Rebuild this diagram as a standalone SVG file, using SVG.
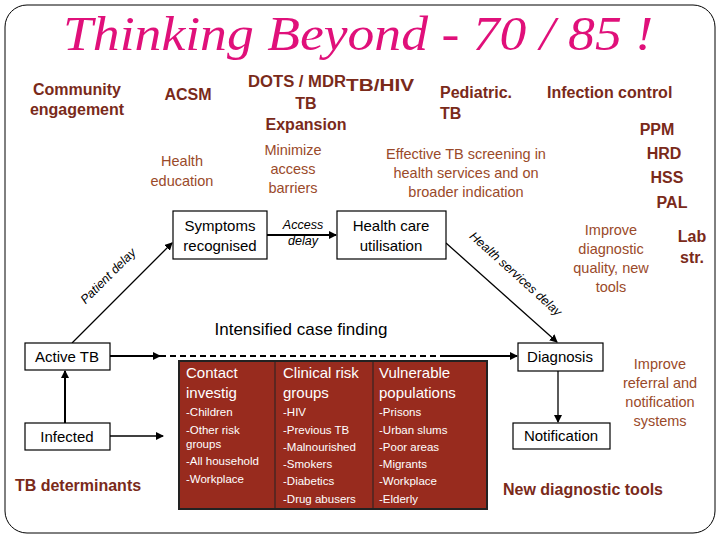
<svg xmlns="http://www.w3.org/2000/svg" width="720" height="540" viewBox="0 0 720 540">
<defs>
<marker id="ah" markerWidth="8" markerHeight="8" refX="7" refY="4" orient="auto" markerUnits="userSpaceOnUse"><path d="M0,0 L8,4 L0,8 z" fill="#000"/></marker>
<style>
text{font-family:"Liberation Sans",Arial,sans-serif}
.b{font-weight:bold;fill:#7a2a1a;font-size:16px}
.l{fill:#9a4a2a;font-size:14.5px}
.n{font-size:15px;fill:#000}
.box{fill:#fff;stroke:#000;stroke-width:1.2}
.w{fill:#fff;font-size:15px}
.ws{fill:#fff;font-size:11.5px}
.it{font-style:italic;font-size:12.5px}
</style>
</defs>
<rect x="5" y="5" width="710" height="528" rx="22" fill="#fff" stroke="#000" stroke-width="1"/>
<text x="358" y="50" text-anchor="middle" font-style="italic" font-size="48" fill="#e0107a" textLength="590" lengthAdjust="spacingAndGlyphs" style="font-family:'Liberation Serif',serif">Thinking Beyond - 70 / 85 !</text>
<g id="top-labels">
<text class="b" x="77" y="95" text-anchor="middle">Community</text>
<text class="b" x="77" y="115" text-anchor="middle">engagement</text>
<text class="b" x="188" y="100" text-anchor="middle">ACSM</text>
<text class="b" x="248" y="87" textLength="98" lengthAdjust="spacingAndGlyphs">DOTS  / MDR</text>
<text class="b" x="346" y="91" textLength="68" lengthAdjust="spacingAndGlyphs">TB/HIV</text>
<text class="b" x="306" y="109" text-anchor="middle">TB</text>
<text class="b" x="306" y="130" text-anchor="middle">Expansion</text>
<text class="b" x="440" y="98">Pediatric.</text>
<text class="b" x="440" y="119">TB</text>
<text class="b" x="547" y="98">Infection control</text>
<text class="b" x="657" y="135" text-anchor="middle">PPM</text>
<text class="b" x="664" y="159" text-anchor="middle">HRD</text>
<text class="b" x="667" y="183" text-anchor="middle">HSS</text>
<text class="b" x="672" y="208" text-anchor="middle">PAL</text>
<text class="l" x="182" y="166" text-anchor="middle">Health</text>
<text class="l" x="182" y="186" text-anchor="middle">education</text>
<text class="l" x="293" y="155" text-anchor="middle">Minimize</text>
<text class="l" x="293" y="174" text-anchor="middle">access</text>
<text class="l" x="293" y="193" text-anchor="middle">barriers</text>
<text class="l" x="466" y="159" text-anchor="middle">Effective TB screening in</text>
<text class="l" x="466" y="178" text-anchor="middle">health services and on</text>
<text class="l" x="466" y="197" text-anchor="middle">broader indication</text>
<text class="l" x="611" y="235" text-anchor="middle">Improve</text>
<text class="l" x="611" y="254" text-anchor="middle">diagnostic</text>
<text class="l" x="611" y="273" text-anchor="middle">quality, new</text>
<text class="l" x="611" y="292" text-anchor="middle">tools</text>
<text class="b" x="692" y="242" text-anchor="middle" font-size="17">Lab</text>
<text class="b" x="692" y="263" text-anchor="middle" font-size="17">str.</text>
<text class="l" x="660" y="369" text-anchor="middle">Improve</text>
<text class="l" x="660" y="388" text-anchor="middle">referral and</text>
<text class="l" x="660" y="407" text-anchor="middle">notification</text>
<text class="l" x="660" y="426" text-anchor="middle">systems</text>
<text class="b" x="583" y="495" text-anchor="middle">New diagnostic tools</text>
<text class="b" x="78" y="491" text-anchor="middle">TB determinants</text>
<text x="301" y="335" text-anchor="middle" font-size="17">Intensified case finding</text>
</g>
<g id="connectors" stroke="#000" fill="none">
<line x1="267" y1="235" x2="336" y2="235" stroke-width="2" marker-end="url(#ah)"/>
<line x1="72" y1="343" x2="172" y2="243" stroke-width="1.3" marker-end="url(#ah)"/>
<line x1="446" y1="243" x2="557" y2="342" stroke-width="1.3" marker-end="url(#ah)"/>
<line x1="65" y1="423" x2="65" y2="371" stroke-width="2" marker-end="url(#ah)"/>
<line x1="110" y1="356" x2="160" y2="356" stroke-width="2" marker-end="url(#ah)"/>
<line x1="160" y1="356" x2="445" y2="356" stroke-width="2" stroke-dasharray="6,4"/>
<line x1="445" y1="356" x2="517" y2="356" stroke-width="2" marker-end="url(#ah)"/>
<line x1="110" y1="436" x2="163" y2="436" stroke-width="1.3" marker-end="url(#ah)"/>
<line x1="558" y1="371" x2="558" y2="422" stroke-width="1.3" marker-end="url(#ah)"/>
</g>
<g id="connector-labels">
<text class="it" x="303" y="229" text-anchor="middle">Access</text>
<text class="it" x="303" y="245" text-anchor="middle">delay</text>
<text class="it" transform="translate(111,279) rotate(-45)" text-anchor="middle" font-size="15">Patient delay</text>
<text class="it" transform="translate(513,277) rotate(42)" text-anchor="middle" font-size="15">Health services delay</text>
</g>
<g id="symptoms"><rect class="box" x="173" y="211" width="94" height="48"/><text class="n" x="220" y="231" text-anchor="middle">Symptoms</text><text class="n" x="220" y="251" text-anchor="middle">recognised</text></g>
<g id="healthcare"><rect class="box" x="337" y="211" width="109" height="48"/><text class="n" x="391" y="231" text-anchor="middle">Health care</text><text class="n" x="391" y="251" text-anchor="middle">utilisation</text></g>
<g id="active"><rect class="box" x="25" y="343" width="85" height="27"/><text class="n" x="67" y="362" text-anchor="middle">Active TB</text></g>
<g id="infected"><rect class="box" x="25" y="423" width="85" height="27"/><text class="n" x="67" y="442" text-anchor="middle">Infected</text></g>
<g id="diagnosis"><rect class="box" x="518" y="343" width="85" height="28"/><text class="n" x="560" y="362" text-anchor="middle">Diagnosis</text></g>
<g id="notification"><rect class="box" x="513" y="423" width="97" height="26"/><text class="n" x="561" y="441" text-anchor="middle">Notification</text></g>
<g id="riskgroups">
<rect x="179" y="361" width="308" height="148" fill="#982b1e" stroke="#222" stroke-width="2"/>
<line x1="275" y1="362" x2="275" y2="508" stroke="#222" stroke-width="1"/>
<line x1="373" y1="362" x2="373" y2="508" stroke="#222" stroke-width="1"/>
<text class="w" x="186" y="378">Contact</text><text class="w" x="186" y="398">investig</text>
<text class="ws" x="186" y="416">-Children</text><text class="ws" x="186" y="434">-Other risk</text><text class="ws" x="186" y="448">groups</text><text class="ws" x="186" y="465">-All household</text><text class="ws" x="186" y="483">-Workplace</text>
<text class="w" x="283" y="378">Clinical risk</text><text class="w" x="283" y="398">groups</text>
<text class="ws" x="283" y="416">-HIV</text><text class="ws" x="283" y="434">-Previous TB</text><text class="ws" x="283" y="451">-Malnourished</text><text class="ws" x="283" y="468">-Smokers</text><text class="ws" x="283" y="485">-Diabetics</text><text class="ws" x="283" y="503">-Drug abusers</text>
<text class="w" x="379" y="378">Vulnerable</text><text class="w" x="379" y="398">populations</text>
<text class="ws" x="379" y="416">-Prisons</text><text class="ws" x="379" y="434">-Urban slums</text><text class="ws" x="379" y="451">-Poor areas</text><text class="ws" x="379" y="468">-Migrants</text><text class="ws" x="379" y="485">-Workplace</text><text class="ws" x="379" y="503">-Elderly</text>
</g>
</svg>
